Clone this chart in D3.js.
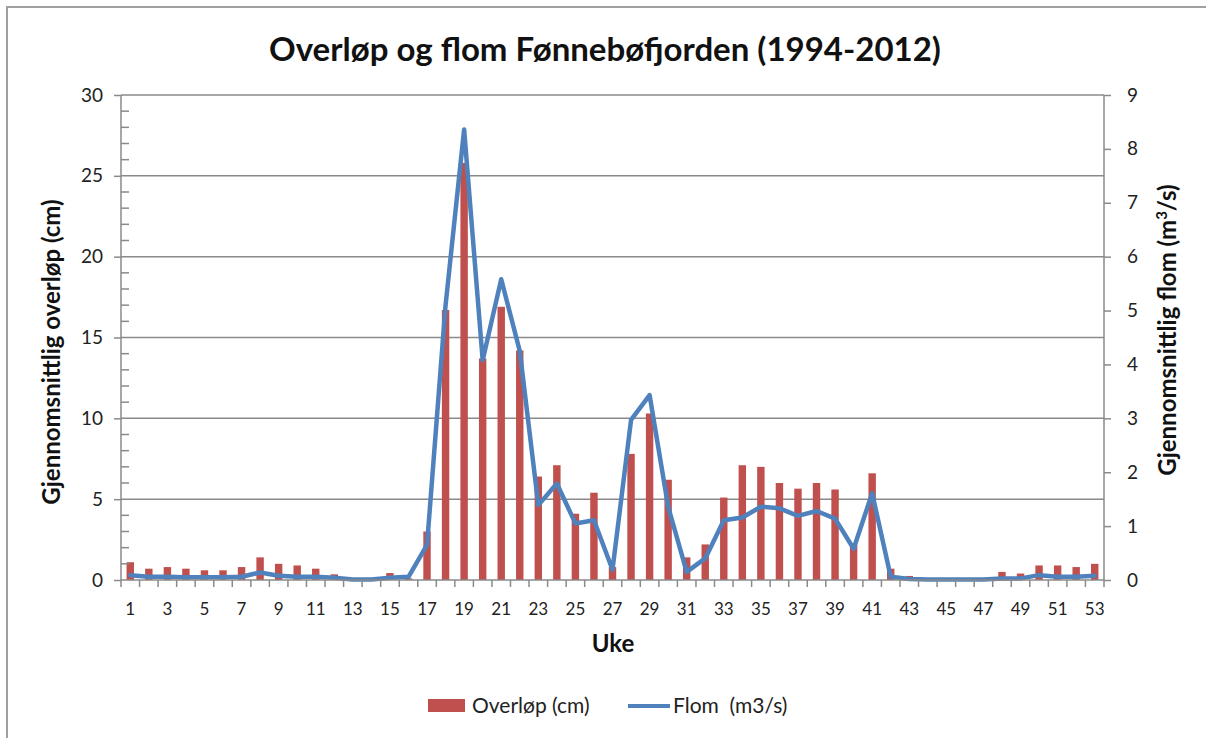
<!DOCTYPE html>
<html>
<head>
<meta charset="utf-8">
<style>
body { margin: 0; background: #fff; }
svg { font-family: Lato, "Open Sans", sans-serif; }
</style>
<script src="https://d3js.org/d3.v7.min.js"></script>
</head>
<body>
<svg id="chart" width="1206" height="738"></svg>
<script>

var weeks = [1,2,3,4,5,6,7,8,9,10,11,12,13,14,15,16,17,18,19,20,21,22,23,24,25,26,27,
    28,29,30,31,32,33,34,35,36,37,38,39,40,41,42,43,44,45,46,47,48,49,50,51,52,53];

// Gjennomsnittlig overløp (cm) per uke
var overlop = [1.1,0.7,0.8,0.7,0.6,0.6,0.8,1.4,1.0,0.9,0.7,0.35,0,0,0.43,0.1,3.0,
    16.7,25.8,13.7,16.9,14.2,6.4,7.1,4.1,5.4,0.8,7.8,10.3,6.2,1.4,2.2,5.1,7.1,7.0,6.0,
    5.65,6.0,5.6,2.2,6.6,0.7,0.25,0,0,0,0,0.5,0.4,0.9,0.9,0.8,1.0];

// Gjennomsnittlig flom (m3/s) per uke
var flom = [0.09,0.06,0.06,0.05,0.05,0.05,0.06,0.14,0.08,0.06,0.06,0.04,0.01,0.01,0.04,
    0.06,0.65,5.1,8.36,4.08,5.58,4.25,1.39,1.79,1.05,1.11,0.19,2.97,3.43,1.36,0.15,0.40,
    1.11,1.16,1.36,1.33,1.19,1.28,1.14,0.58,1.61,0.06,0.02,0.01,0.01,0.01,0.01,0.03,0.03,
    0.09,0.06,0.06,0.08];

var leftTicks = [0,5,10,15,20,25,30];
var rightTicks = [0,1,2,3,4,5,6,7,8,9];

var barColor = "#C0504D";
var lineColor = "#4F81BD";
var axisColor = "#8a8a8a";

var plot = { left: 121, right: 1104, top: 95, bottom: 580 };

var svg = d3.select("#chart");

// outer frame (only top and left edges visible)
svg.append("path")
    .attr("d", "M7,738 L7,7 L1206,7")
    .attr("fill", "none")
    .attr("stroke", "#a0a0a0")
    .attr("stroke-width", 2);

var x = d3.scaleBand()
    .domain(weeks)
    .range([plot.left, plot.right])
    .padding(0);

var yLeft = d3.scaleLinear().domain([0, 30]).range([plot.bottom, plot.top]);
var yRight = d3.scaleLinear().domain([0, 9]).range([plot.bottom, plot.top]);

// gridlines
svg.append("g")
    .selectAll("line")
    .data(leftTicks.filter(function(d) { return d > 0; }))
    .enter().append("line")
    .attr("x1", plot.left)
    .attr("x2", plot.right)
    .attr("y1", function(d) { return yLeft(d); })
    .attr("y2", function(d) { return yLeft(d); })
    .attr("stroke", axisColor)
    .attr("stroke-width", 1.5);

// bars
var barW = x.bandwidth() * 0.4;
svg.append("g")
    .selectAll("rect")
    .data(weeks)
    .enter().append("rect")
    .attr("x", function(d) { return x(d) + (x.bandwidth() - barW) / 2; })
    .attr("width", barW)
    .attr("y", function(d, i) { return yLeft(overlop[i]); })
    .attr("height", function(d, i) { return plot.bottom - yLeft(overlop[i]); })
    .attr("fill", barColor);

// flom line
var line = d3.line()
    .x(function(d, i) { return x(weeks[i]) + x.bandwidth() / 2; })
    .y(function(d) { return yRight(d); });

svg.append("path")
    .datum(flom)
    .attr("d", line)
    .attr("fill", "none")
    .attr("stroke", lineColor)
    .attr("stroke-width", 4.5)
    .attr("stroke-linejoin", "round")
    .attr("stroke-linecap", "round");

// left axis
var leftAxis = svg.append("g")
    .attr("transform", "translate(" + plot.left + ",0)")
    .call(d3.axisLeft(yLeft).tickValues(leftTicks).tickSize(7).tickPadding(11));
leftAxis.select(".domain").remove();
leftAxis.append("line")
    .attr("y1", plot.top).attr("y2", plot.bottom);
// minor ticks (inside)
leftAxis.selectAll(".minor")
    .data(d3.range(1, 30).filter(function(d) { return d % 5 !== 0; }))
    .enter().append("line")
    .attr("class", "minor")
    .attr("x1", 0).attr("x2", 8)
    .attr("y1", function(d) { return yLeft(d); })
    .attr("y2", function(d) { return yLeft(d); });

// right axis
var rightAxis = svg.append("g")
    .attr("transform", "translate(" + plot.right + ",0)")
    .call(d3.axisRight(yRight).tickValues(rightTicks).tickSize(7).tickPadding(16));
rightAxis.select(".domain").remove();
rightAxis.append("line")
    .attr("y1", plot.top).attr("y2", plot.bottom);

// x axis
var xAxis = svg.append("g")
    .attr("transform", "translate(0," + plot.bottom + ")")
    .call(d3.axisBottom(x).tickSize(0).tickPadding(23)
        .tickFormat(function(d) { return d % 2 === 1 ? d : ""; }));
xAxis.select(".domain").remove();
xAxis.append("line")
    .attr("x1", plot.left).attr("x2", plot.right);
xAxis.selectAll(".bound")
    .data(weeks.concat([null]))
    .enter().append("line")
    .attr("class", "bound")
    .attr("x1", function(d) { return d === null ? plot.right : x(d); })
    .attr("x2", function(d) { return d === null ? plot.right : x(d); })
    .attr("y1", 0).attr("y2", 7);

svg.selectAll("g line").attr("stroke", axisColor).attr("stroke-width", 1.5);
svg.selectAll(".tick text")
    .attr("font-family", "Lato, sans-serif")
    .attr("font-size", 19)
    .attr("fill", "#222");
xAxis.selectAll(".tick text").attr("font-size", 17);

// title
svg.append("text")
    .attr("x", 605)
    .attr("y", 61)
    .attr("text-anchor", "middle")
    .attr("font-size", 33)
    .attr("font-weight", "bold")
    .attr("fill", "#111")
    .text("Overløp og flom Fønnebøfjorden (1994-2012)");

// axis titles
svg.append("text")
    .attr("transform", "translate(60,352) rotate(-90)")
    .attr("text-anchor", "middle")
    .attr("font-size", 24)
    .attr("font-weight", "bold")
    .attr("fill", "#111")
    .text("Gjennomsnittlig overløp (cm)");

var rt = svg.append("text")
    .attr("transform", "translate(1176,330) rotate(-90)")
    .attr("text-anchor", "middle")
    .attr("font-size", 24)
    .attr("font-weight", "bold")
    .attr("fill", "#111");
rt.append("tspan").text("Gjennomsnittlig flom (m");
rt.append("tspan").attr("font-size", 15).attr("dy", -9).text("3");
rt.append("tspan").attr("dy", 9).text("/s)");

svg.append("text")
    .attr("x", 613)
    .attr("y", 652)
    .attr("text-anchor", "middle")
    .attr("font-size", 24)
    .attr("font-weight", "bold")
    .attr("fill", "#111")
    .text("Uke");

// legend
var legend = svg.append("g");
legend.append("rect")
    .attr("x", 428).attr("y", 699)
    .attr("width", 37).attr("height", 13)
    .attr("fill", barColor);
legend.append("text")
    .attr("x", 472).attr("y", 713)
    .attr("font-size", 21)
    .attr("fill", "#222")
    .text("Overløp (cm)");
legend.append("line")
    .attr("x1", 628).attr("x2", 670)
    .attr("y1", 706).attr("y2", 706)
    .attr("stroke", lineColor)
    .attr("stroke-width", 4);
legend.append("text")
    .attr("x", 673).attr("y", 713)
    .attr("font-size", 21)
    .attr("fill", "#222")
    .text("Flom\u00a0\u00a0(m3/s)");

</script>
</body>
</html>
